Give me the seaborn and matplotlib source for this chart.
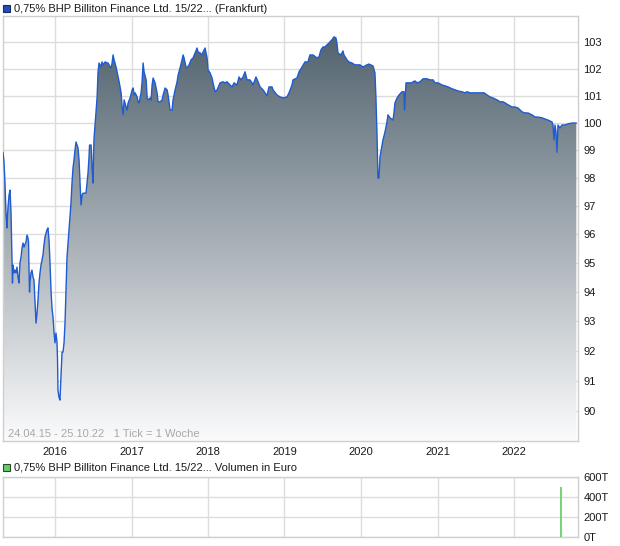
import numpy as np
import pandas as pd
import matplotlib
matplotlib.use("Agg")
import matplotlib.pyplot as plt
import seaborn as sns
from matplotlib.patches import Rectangle
from matplotlib.colors import LinearSegmentedColormap
from matplotlib.ticker import FixedLocator, FixedFormatter, NullLocator, NullFormatter

# ---------------- data (decimal year, price in %) ----------------
years = [
    2015.320, 2015.333, 2015.346, 2015.359, 2015.373, 2015.379, 2015.386, 2015.399, 2015.412, 2015.425,
    2015.438, 2015.444, 2015.451, 2015.464, 2015.477, 2015.490, 2015.503, 2015.516, 2015.529, 2015.542,
    2015.556, 2015.569, 2015.582, 2015.595, 2015.621, 2015.634, 2015.647, 2015.654, 2015.660, 2015.667,
    2015.673, 2015.686, 2015.699, 2015.712, 2015.725, 2015.739, 2015.752, 2015.765, 2015.778, 2015.791,
    2015.804, 2015.817, 2015.830, 2015.843, 2015.856, 2015.869, 2015.895, 2015.908, 2015.922, 2015.935,
    2015.948, 2015.961, 2015.974, 2015.987, 2016.000, 2016.013, 2016.026, 2016.033, 2016.039, 2016.052,
    2016.065, 2016.078, 2016.092, 2016.105, 2016.118, 2016.131, 2016.144, 2016.157, 2016.170, 2016.183,
    2016.196, 2016.209, 2016.222, 2016.235, 2016.248, 2016.261, 2016.275, 2016.288, 2016.301, 2016.314,
    2016.327, 2016.340, 2016.353, 2016.366, 2016.405, 2016.431, 2016.444, 2016.451, 2016.471, 2016.484,
    2016.497, 2016.503, 2016.510, 2016.523, 2016.536, 2016.549, 2016.556, 2016.562, 2016.575, 2016.601,
    2016.614, 2016.627, 2016.654, 2016.680, 2016.693, 2016.719, 2016.732, 2016.745, 2016.758, 2016.771,
    2016.797, 2016.810, 2016.837, 2016.863, 2016.876, 2016.889, 2016.902, 2016.928, 2016.941, 2016.954,
    2016.980, 2017.007, 2017.020, 2017.033, 2017.046, 2017.072, 2017.085, 2017.098, 2017.124, 2017.137,
    2017.150, 2017.163, 2017.190, 2017.203, 2017.216, 2017.242, 2017.255, 2017.268, 2017.281, 2017.307,
    2017.333, 2017.346, 2017.373, 2017.399, 2017.412, 2017.438, 2017.464, 2017.477, 2017.503, 2017.529,
    2017.542, 2017.569, 2017.595, 2017.608, 2017.634, 2017.660, 2017.673, 2017.686, 2017.712, 2017.725,
    2017.752, 2017.778, 2017.804, 2017.830, 2017.856, 2017.869, 2017.895, 2017.922, 2017.935, 2017.961,
    2017.987, 2018.000, 2018.026, 2018.052, 2018.065, 2018.092, 2018.118, 2018.157, 2018.196, 2018.222,
    2018.248, 2018.261, 2018.314, 2018.340, 2018.379, 2018.405, 2018.431, 2018.458, 2018.484, 2018.510,
    2018.549, 2018.575, 2018.588, 2018.627, 2018.654, 2018.680, 2018.719, 2018.745, 2018.771, 2018.797,
    2018.837, 2018.850, 2018.902, 2018.941, 2018.980, 2019.033, 2019.059, 2019.098, 2019.111, 2019.163,
    2019.190, 2019.229, 2019.268, 2019.307, 2019.333, 2019.373, 2019.425, 2019.451, 2019.477, 2019.503,
    2019.529, 2019.556, 2019.582, 2019.621, 2019.647, 2019.673, 2019.686, 2019.699, 2019.739, 2019.765,
    2019.778, 2019.817, 2019.843, 2019.882, 2019.922, 2019.987, 2020.026, 2020.078, 2020.105, 2020.157,
    2020.183, 2020.196, 2020.209, 2020.222, 2020.235, 2020.248, 2020.275, 2020.288, 2020.314, 2020.340,
    2020.353, 2020.379, 2020.418, 2020.431, 2020.444, 2020.471, 2020.497, 2020.536, 2020.562, 2020.569,
    2020.588, 2020.614, 2020.667, 2020.680, 2020.706, 2020.732, 2020.771, 2020.810, 2020.863, 2020.902,
    2020.941, 2020.967, 2021.007, 2021.059, 2021.098, 2021.137, 2021.190, 2021.229, 2021.268, 2021.320,
    2021.359, 2021.386, 2021.425, 2021.464, 2021.556, 2021.608, 2021.647, 2021.686, 2021.725, 2021.778,
    2021.817, 2021.856, 2021.882, 2021.922, 2021.974, 2022.013, 2022.052, 2022.105, 2022.144, 2022.183,
    2022.235, 2022.275, 2022.314, 2022.366, 2022.405, 2022.444, 2022.497, 2022.510, 2022.523, 2022.536,
    2022.549, 2022.562, 2022.575, 2022.601, 2022.627, 2022.667, 2022.706, 2022.758, 2022.815,
]

prices = [
    98.93, 98.57, 97.82, 96.76, 96.23, 96.69, 96.97, 97.39, 97.57, 96.76,
    95.11, 94.31, 94.93, 94.66, 94.76, 94.66, 94.86, 94.52, 94.31, 95.01,
    95.21, 95.53, 95.70, 95.56, 95.74, 95.98, 95.88, 95.74, 94.83, 94.00,
    94.35, 94.66, 94.76, 94.52, 94.42, 93.66, 92.94, 93.28, 93.73, 94.31,
    94.66, 94.93, 95.11, 95.28, 95.63, 95.91, 96.16, 96.23, 95.81, 95.01,
    94.07, 93.45, 93.15, 92.64, 92.27, 92.60, 92.30, 91.76, 90.69, 90.46,
    90.36, 91.13, 91.96, 91.96, 92.27, 92.94, 94.07, 95.21, 95.70, 96.16,
    96.62, 97.11, 97.82, 98.36, 98.65, 99.01, 99.30, 99.19, 99.08, 98.65,
    97.82, 97.04, 97.39, 97.46, 97.46, 98.18, 98.75, 99.19, 99.19, 98.40,
    97.82, 98.83, 99.45, 99.92, 100.40, 100.91, 101.39, 101.88, 102.21, 102.06,
    102.25, 102.14, 102.25, 102.21, 102.21, 102.06, 102.03, 102.21, 102.51, 102.33,
    102.06, 101.88, 101.51, 101.10, 100.58, 100.29, 100.84, 100.58, 100.47, 100.73,
    100.91, 101.21, 101.28, 101.02, 101.10, 100.95, 100.77, 100.73, 101.10, 101.51,
    102.21, 101.88, 101.58, 100.91, 100.84, 100.91, 100.84, 101.39, 101.65, 101.47,
    101.10, 100.77, 100.77, 100.84, 101.02, 101.28, 101.21, 101.02, 100.47, 100.47,
    100.84, 101.21, 101.51, 101.76, 102.03, 102.33, 102.51, 102.40, 102.06, 102.03,
    102.14, 102.33, 102.40, 102.59, 102.77, 102.62, 102.59, 102.51, 102.62, 102.77,
    102.40, 101.95, 101.84, 101.65, 101.47, 101.14, 101.21, 101.47, 101.51, 101.47,
    101.51, 101.47, 101.32, 101.47, 101.39, 101.69, 101.58, 101.69, 101.88, 101.58,
    101.58, 101.47, 101.39, 101.69, 101.51, 101.32, 101.21, 101.10, 100.99, 101.32,
    101.32, 101.21, 101.02, 100.95, 100.91, 100.95, 101.10, 101.39, 101.58, 101.65,
    101.88, 102.06, 102.25, 102.25, 102.51, 102.51, 102.40, 102.44, 102.70, 102.81,
    102.81, 102.89, 102.96, 103.08, 103.19, 103.15, 102.96, 102.59, 102.51, 102.66,
    102.51, 102.33, 102.25, 102.21, 102.14, 102.14, 102.06, 102.14, 102.17, 102.10,
    101.84, 100.91, 99.64, 98.00, 98.00, 98.75, 99.19, 99.38, 99.67, 100.03,
    100.29, 100.18, 100.10, 100.36, 100.73, 100.91, 101.02, 101.14, 101.14, 100.47,
    101.47, 101.47, 101.47, 101.51, 101.54, 101.47, 101.51, 101.62, 101.62, 101.58,
    101.58, 101.47, 101.47, 101.39, 101.36, 101.32, 101.25, 101.21, 101.17, 101.14,
    101.10, 101.14, 101.10, 101.10, 101.10, 101.10, 101.02, 100.95, 100.91, 100.84,
    100.77, 100.77, 100.73, 100.66, 100.58, 100.58, 100.54, 100.40, 100.36, 100.36,
    100.29, 100.21, 100.21, 100.18, 100.14, 100.10, 100.03, 99.92, 99.38, 99.92,
    99.67, 98.93, 99.92, 99.81, 99.92, 99.92, 99.96, 99.99, 99.99,
]

vol_years = [2022.614]
vol_values = [500000]

price_ticks = [90, 91, 92, 93, 94, 95, 96, 97, 98, 99, 100, 101, 102, 103]
vol_ticks = [0, 200000, 400000, 600000]
vol_labels = ["0T", "200T", "400T", "600T"]
year_ticks = [2016, 2017, 2018, 2019, 2020, 2021, 2022]

title_price = "0,75% BHP Billiton Finance Ltd. 15/22... (Frankfurt)"
title_vol = "0,75% BHP Billiton Finance Ltd. 15/22... Volumen in Euro"
range_text = "24.04.15 - 25.10.22   1 Tick = 1 Woche"


def dec2date(t):
    y = int(np.floor(t))
    a = pd.Timestamp(year=y, month=1, day=1)
    b = pd.Timestamp(year=y + 1, month=1, day=1)
    return a + (b - a) * (t - y)


df = pd.DataFrame({"date": [dec2date(t) for t in years], "price": prices})
vdf = pd.DataFrame({"date": [dec2date(t) for t in vol_years], "volume": vol_values})

sns.set_theme(style="white")
plt.rcParams["font.family"] = ["Liberation Sans", "DejaVu Sans"]
FS = 8

W, H = 620, 546
fig = plt.figure(figsize=(W / 100, H / 100), dpi=100)
fig.patch.set_facecolor("white")

ax = fig.add_axes([3 / W, 1 - 441 / H, 575 / W, 425 / H])
ax2 = fig.add_axes([3 / W, 1 - 537 / H, 575 / W, 60 / H])

xmin, xmax = dec2date(2015.320), dec2date(2022.837)
ymin, ymax = 89.02, 103.98
grid_c = "#dcdcdc"
spine_c = "#cfcfcf"

# ---------------- price panel ----------------
ax.set_yscale("log")
ax.set_xlim(xmin, xmax)
ax.set_ylim(ymin, ymax)
ax.set_autoscale_on(False)
ax.set_facecolor("white")

cmap = LinearSegmentedColormap.from_list("grad", ["#fbfbfc", "#4a5c68"])
grad = np.linspace(0, 1, 256).reshape(-1, 1)
im = ax.imshow(grad, extent=[0, 1, 0, 1], transform=ax.transAxes, origin="lower",
               aspect="auto", cmap=cmap, zorder=1, interpolation="bilinear")
poly = ax.fill_between(df["date"], df["price"], ymin, facecolor="none", edgecolor="none")
im.set_clip_path(poly.get_paths()[0], transform=ax.transData)

sns.lineplot(data=df, x="date", y="price", ax=ax, color="#1f5bd1", linewidth=1.0,
             estimator=None, sort=False, zorder=3)
ax.set_xlim(xmin, xmax)
ax.set_ylim(ymin, ymax)

ax.yaxis.set_major_locator(FixedLocator(price_ticks))
ax.yaxis.set_major_formatter(FixedFormatter([str(v) for v in price_ticks]))
ax.yaxis.set_minor_locator(NullLocator())
ax.yaxis.set_minor_formatter(NullFormatter())
ax.yaxis.tick_right()

xt = [dec2date(y) for y in year_ticks]
ax.set_xticks(xt)
ax.set_xticklabels([str(y) for y in year_ticks])
ax.grid(True, color=grid_c, linewidth=1.0, zorder=0)
ax.set_axisbelow(True)
ax.tick_params(axis="y", length=0, pad=4, labelsize=FS, colors="#1a1a1a")
ax.tick_params(axis="x", length=3, width=1, color=spine_c, pad=1, labelsize=FS)
for lab in ax.get_xticklabels():
    lab.set_color("#1a1a1a")
for sp in ax.spines.values():
    sp.set_color(spine_c)
    sp.set_linewidth(1.0)
ax.set_xlabel("")
ax.set_ylabel("")

ax.text(5 / 575, 1 - (434 - 16) / 425, range_text, transform=ax.transAxes,
        ha="left", va="center", fontsize=FS, color="#a8a8a8", zorder=5)

# ---------------- volume panel ----------------
ax2.set_xlim(xmin, xmax)
ax2.set_ylim(0, 600000)
ax2.vlines(vdf["date"], 0, vdf["volume"], color="#5ccc5c", linewidth=1.2, zorder=3)
ax2.set_xlim(xmin, xmax)
ax2.set_ylim(0, 600000)
ax2.set_yticks(vol_ticks)
ax2.set_yticklabels(vol_labels)
ax2.yaxis.tick_right()
ax2.set_xticks(xt)
ax2.grid(True, color=grid_c, linewidth=1.0, zorder=0)
ax2.set_axisbelow(True)
ax2.tick_params(axis="y", length=0, pad=4, labelsize=FS, colors="#1a1a1a")
ax2.tick_params(axis="x", length=0, labelbottom=False)
for sp in ax2.spines.values():
    sp.set_color(spine_c)
    sp.set_linewidth(1.0)
ax2.set_facecolor("white")

# ---------------- headers with coloured squares ----------------
fig.add_artist(Rectangle((3 / W, 1 - 12 / H), 7 / W, 7 / H, transform=fig.transFigure,
                         facecolor="#1f4fbf", edgecolor="#1b2b57", linewidth=0.8))
fig.text(14 / W, 1 - 8.5 / H, title_price, ha="left", va="center", fontsize=FS, color="#1a1a1a")

fig.add_artist(Rectangle((3 / W, 1 - 471 / H), 7 / W, 7 / H, transform=fig.transFigure,
                         facecolor="#66cc66", edgecolor="#2a4a2a", linewidth=0.8))
fig.text(14 / W, 1 - 467.5 / H, title_vol, ha="left", va="center", fontsize=FS, color="#1a1a1a")

fig.savefig("out.png", dpi=100, facecolor="white")
